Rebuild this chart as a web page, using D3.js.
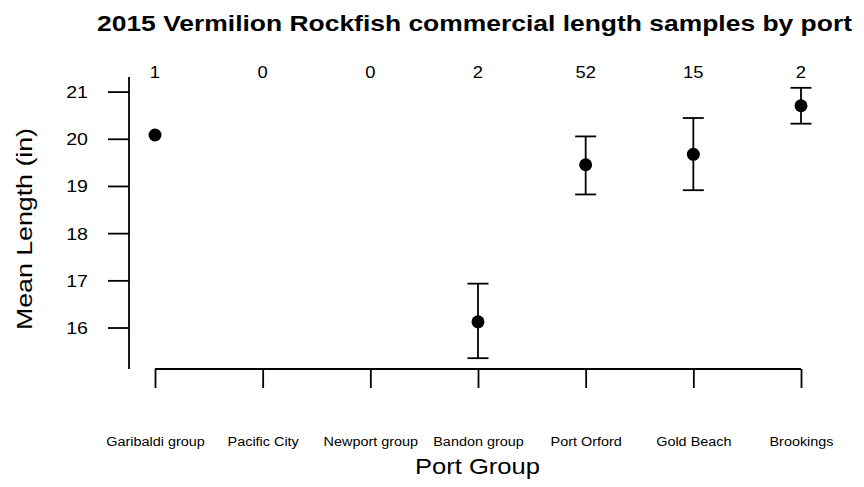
<!DOCTYPE html>
<html><head><meta charset="utf-8">
<script src="https://cdn.jsdelivr.net/npm/d3@7"></script>
<style>
html,body{margin:0;padding:0;background:#fff;}
text{font-family:"Liberation Sans",Arial,sans-serif;fill:#000;}
</style></head>
<body>
<svg id="chart" width="864" height="487"></svg>
<script>
const categories = ["Garibaldi group","Pacific City","Newport group","Bandon group","Port Orford","Gold Beach","Brookings"];
const counts = [1, 0, 0, 2, 52, 15, 2];
const means = [20.08, null, null, 16.12, 19.45, 19.67, 20.70];
const lower = [null, null, null, 15.35, 18.82, 18.91, 20.32];
const upper = [null, null, null, 16.93, 20.05, 20.44, 21.08];
const yTicks = [16, 17, 18, 19, 20, 21];
const title = "2015 Vermilion Rockfish commercial length samples by port";
const xTitle = "Port Group";
const yTitle = "Mean Length (in)";

const svg = d3.select("#chart");
const W = 864, H = 487;
const plot = {left: 129, top: 77, bottom: 369};

const x = d3.scalePoint().domain(categories).range([155, 801]);
const allVals = [...means, ...lower, ...upper].filter(v => v != null);
const lo = d3.min(allVals), hi = d3.max(allVals), pad = (hi - lo) * 0.04;
const y = d3.scaleLinear().domain([lo - pad, hi + pad]).range([plot.bottom, plot.top]);

function stretch(sel, f) {
  sel.each(function() {
    const L = this.getComputedTextLength();
    d3.select(this).attr("textLength", L * f).attr("lengthAdjust", "spacingAndGlyphs");
  });
}
function fitTo(sel, len) {
  sel.attr("textLength", len).attr("lengthAdjust", "spacingAndGlyphs");
}

// Y axis
const yAxis = d3.axisLeft(y).tickValues(yTicks).tickSize(21).tickPadding(41 - 21 - 0).tickFormat(d3.format("d"));
const gy = svg.append("g").attr("transform", `translate(${plot.left},0)`).call(yAxis);
gy.select(".domain").remove();
gy.selectAll(".tick line").attr("stroke", "#000").attr("stroke-width", 1.8);
gy.selectAll(".tick text").attr("x", -41).attr("dy", "0.35em").style("font-size", "17px").attr("fill", "#000").call(stretch, 1.15);
gy.append("line").attr("x1", 0).attr("x2", 0).attr("y1", plot.top).attr("y2", plot.bottom)
  .attr("stroke", "#000").attr("stroke-width", 1.8);

// X axis
const xAxis = d3.axisBottom(x).tickSize(19).tickPadding(49).tickSizeOuter(0);
const gx = svg.append("g").attr("transform", `translate(0,${plot.bottom})`).call(xAxis);
gx.select(".domain").attr("d", `M${x(categories[0])},0H${x(categories[categories.length-1])}`)
  .attr("stroke", "#000").attr("stroke-width", 1.8);
gx.selectAll(".tick line").attr("stroke", "#000").attr("stroke-width", 1.8);
gx.selectAll(".tick text").style("font-size", "12px").attr("fill", "#000").call(stretch, 1.2);

// Counts
svg.append("g").selectAll("text").data(categories).join("text")
  .attr("x", d => x(d)).attr("y", 78).attr("text-anchor", "middle")
  .style("font-size", "17px").text((d, i) => counts[i]).call(stretch, 1.08);

// Error bars
const eb = categories.map((c, i) => ({c, m: means[i], l: lower[i], u: upper[i]})).filter(d => d.l != null);
const gE = svg.append("g").attr("stroke", "#000").attr("stroke-width", 1.8);
gE.selectAll("line.v").data(eb).join("line").attr("class", "v")
  .attr("x1", d => x(d.c)).attr("x2", d => x(d.c)).attr("y1", d => y(d.l)).attr("y2", d => y(d.u));
gE.selectAll("line.cu").data(eb).join("line").attr("class", "cu")
  .attr("x1", d => x(d.c) - 10.5).attr("x2", d => x(d.c) + 10.5).attr("y1", d => y(d.u)).attr("y2", d => y(d.u));
gE.selectAll("line.cl").data(eb).join("line").attr("class", "cl")
  .attr("x1", d => x(d.c) - 10.5).attr("x2", d => x(d.c) + 10.5).attr("y1", d => y(d.l)).attr("y2", d => y(d.l));

// Points
const pts = categories.map((c, i) => ({c, m: means[i]})).filter(d => d.m != null);
svg.append("g").selectAll("circle").data(pts).join("circle")
  .attr("cx", d => x(d.c)).attr("cy", d => y(d.m)).attr("r", 6.5).attr("fill", "#000");

// Titles
svg.append("text").attr("x", 474.5).attr("y", 31).attr("text-anchor", "middle")
  .style("font-size", "22px").style("font-weight", "bold").text(title).call(fitTo, 755);
svg.append("text").attr("x", 477.5).attr("y", 474).attr("text-anchor", "middle")
  .style("font-size", "22px").text(xTitle).call(fitTo, 125);
svg.append("text").attr("transform", "translate(32,229) rotate(-90)").attr("text-anchor", "middle")
  .style("font-size", "22px").text(yTitle).call(fitTo, 202);
</script>
</body></html>
